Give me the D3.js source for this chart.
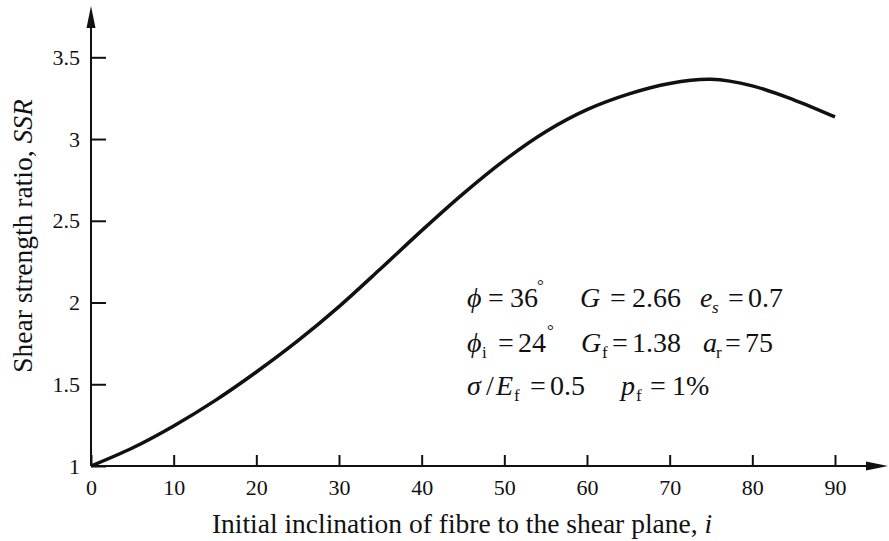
<!DOCTYPE html>
<html>
<head>
<meta charset="utf-8">
<script src="https://cdn.jsdelivr.net/npm/d3@7"></script>
<style>
    body { margin: 0; background: #fff; }
    svg { display: block; font-family: "Liberation Serif", "Times New Roman", serif; }
</style>
</head>
<body>
<div id="chart"></div>
<script>
// data
var inclination = [0, 5, 10, 15, 20, 25, 30, 35, 40, 45, 50, 55, 60, 65, 70, 75, 80, 85, 90];
var ssr = [1.0, 1.11, 1.245, 1.40, 1.575, 1.765, 1.975, 2.205, 2.44, 2.665, 2.87, 3.045, 3.18, 3.275, 3.34, 3.365, 3.325, 3.24, 3.135];
var xTicks = [0, 10, 20, 30, 40, 50, 60, 70, 80, 90];
var yTicks = [1, 1.5, 2, 2.5, 3, 3.5];

drawChart();

function drawChart() {
    var width = 889, height = 541;

    var svg = d3.select("#chart")
        .append("svg")
        .attr("width", width)
        .attr("height", height);

    // scales
    var x = d3.scaleLinear()
        .domain([0, 90])
        .range([91, 835]);
    var y = d3.scaleLinear()
        .domain([1, 3.5])
        .range([466, 57.3]);

    // X axis (ticks point inward)
    var xAxis = svg.append("g")
        .attr("transform", "translate(0," + y(1) + ")")
        .call(d3.axisBottom(x).tickValues(xTicks).tickSizeInner(-11).tickSizeOuter(0).tickPadding(13).tickFormat(d3.format("")));
    xAxis.select(".domain").remove();

    // Y axis
    var yAxis = svg.append("g")
        .attr("transform", "translate(" + x(0) + ",0)")
        .call(d3.axisLeft(y).tickValues(yTicks).tickSizeInner(-15).tickSizeOuter(0).tickPadding(11).tickFormat(d3.format("")));
    yAxis.select(".domain").remove();

    svg.selectAll(".tick line")
        .attr("stroke", "#111")
        .attr("stroke-width", 2);
    svg.selectAll(".tick text")
        .attr("fill", "#111")
        .style("font-family", "'Liberation Serif', serif")
        .style("font-size", "22px");

    // axis lines with arrow heads
    svg.append("line")
        .attr("x1", x(0)).attr("y1", y(1))
        .attr("x2", 870).attr("y2", y(1))
        .attr("stroke", "#111").attr("stroke-width", 2);
    svg.append("path")
        .attr("d", "M888," + y(1) + " L866," + (y(1) - 4.5) + " L866," + (y(1) + 4.5) + " Z")
        .attr("fill", "#111");

    svg.append("line")
        .attr("x1", x(0)).attr("y1", y(1))
        .attr("x2", x(0)).attr("y2", 25)
        .attr("stroke", "#111").attr("stroke-width", 2);
    svg.append("path")
        .attr("d", "M" + x(0) + ",6 L" + (x(0) - 4.5) + ",28 L" + (x(0) + 4.5) + ",28 Z")
        .attr("fill", "#111");

    // curve
    var line = d3.line()
        .x(function (d, i) { return x(inclination[i]); })
        .y(function (d) { return y(d); })
        .curve(d3.curveCatmullRom.alpha(0.5));

    svg.append("path")
        .datum(ssr)
        .attr("d", line)
        .attr("fill", "none")
        .attr("stroke", "#111")
        .attr("stroke-width", 3.5);

    // axis titles
    var xt = svg.append("text")
        .attr("x", 462)
        .attr("y", 533)
        .attr("text-anchor", "middle")
        .style("font-size", "27.5px")
        .attr("fill", "#111");
    xt.append("tspan").text("Initial inclination of fibre to the shear plane,  ");
    xt.append("tspan").style("font-style", "italic").text("i");

    var yt = svg.append("text")
        .attr("transform", "translate(32,236) rotate(-90)")
        .attr("text-anchor", "middle")
        .style("font-size", "27.5px")
        .attr("fill", "#111");
    yt.append("tspan").text("Shear strength ratio, ");
    yt.append("tspan").style("font-style", "italic").text("SSR");

    // parameter box
    var fs = 28;
    var lines = [
        { y: 307, parts: [
            { t: "\u03D5", x: 467, it: true },
            { t: "=", x: 488 },
            { t: "36", x: 510 },
            { t: "\u00B0", x: 537, sup: true },
            { t: "G", x: 580, it: true },
            { t: "=", x: 610 },
            { t: "2.66", x: 632 },
            { t: "e", x: 700, it: true },
            { t: "s", x: 712, it: true, sub: true },
            { t: "=", x: 728 },
            { t: "0.7", x: 748 }
        ] },
        { y: 352, parts: [
            { t: "\u03D5", x: 467, it: true },
            { t: "i", x: 482, sub: true },
            { t: "=", x: 498 },
            { t: "24", x: 518 },
            { t: "\u00B0", x: 547, sup: true },
            { t: "G", x: 581, it: true },
            { t: "f", x: 602, sub: true },
            { t: "=", x: 612 },
            { t: "1.38", x: 632 },
            { t: "a", x: 703, it: true },
            { t: "r", x: 716, sub: true },
            { t: "=", x: 725 },
            { t: "75", x: 745 }
        ] },
        { y: 395, parts: [
            { t: "\u03C3", x: 467, it: true },
            { t: "/", x: 486 },
            { t: "E", x: 496, it: true },
            { t: "f", x: 514, sub: true },
            { t: "=", x: 530 },
            { t: "0.5", x: 550 },
            { t: "p", x: 621, it: true },
            { t: "f", x: 636, sub: true },
            { t: "=", x: 650 },
            { t: "1%", x: 672 }
        ] }
    ];

    lines.forEach(function (ln) {
        ln.parts.forEach(function (p) {
            var size = fs, yy = ln.y;
            if (p.sub) { size = 17; yy = ln.y + 6; }
            if (p.sup) { size = 17; yy = ln.y - 16; }
            svg.append("text")
                .attr("x", p.x)
                .attr("y", yy)
                .style("font-size", size + "px")
                .style("font-style", p.it ? "italic" : "normal")
                .attr("fill", "#111")
                .text(p.t);
        });
    });
}
</script>
</body>
</html>
